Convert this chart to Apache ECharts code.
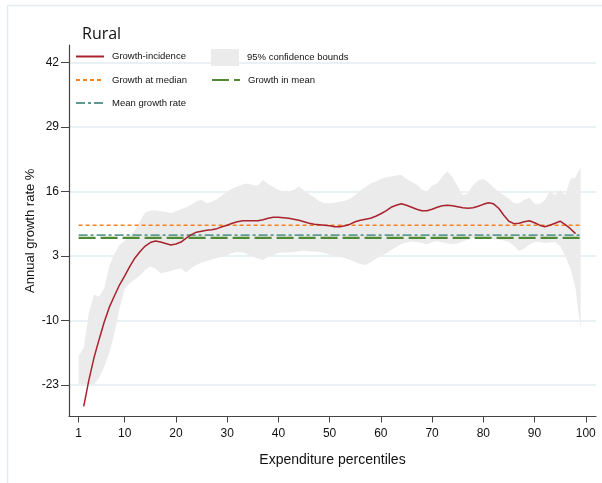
<!DOCTYPE html>
<html>
<head>
<meta charset="utf-8">
<script src="https://cdn.jsdelivr.net/npm/echarts@6/dist/echarts.min.js"></script>
<style>html,body{margin:0;padding:0;background:#fff;}#c{width:602px;height:483px;}</style>
</head>
<body>
<div id="c"></div>
<script>
// Percentiles for the confidence band (1..99) and curve (2..98)
const bandPercentiles = Array.from({length: 99}, (_, i) => i + 1);
const curvePercentiles = Array.from({length: 97}, (_, i) => i + 2);

const upperBound = [
  -17.2, -15.5, -8.5, -4.8, -5.2, -3.5, 1.0, 3.5, 5.2, 6.0,
  7.0, 8.3, 10.0, 11.8, 12.1, 12.2, 12.0, 11.9, 11.6, 12.0,
  12.4, 12.8, 13.3, 14.0, 14.3, 13.6, 13.9, 14.4, 15.2, 16.0,
  16.6, 17.0, 17.4, 17.6, 17.3, 17.2, 18.3, 17.5, 16.9, 16.3,
  16.0, 16.1, 16.3, 17.0, 16.2, 15.5, 14.8, 14.0, 13.6, 13.6,
  13.7, 13.9, 14.1, 14.5, 15.3, 16.2, 16.9, 17.6, 18.0, 18.5,
  18.8, 19.0, 19.2, 19.3, 18.5, 17.9, 17.4, 16.4, 16.0, 17.2,
  17.6, 19.0, 20.0, 18.8, 17.0, 15.3, 15.6, 17.3, 18.2, 18.5,
  17.8, 16.8, 16.0, 15.3, 14.5, 13.6, 13.6, 14.3, 14.7, 13.5,
  13.5, 14.2, 16.1, 15.3, 16.3, 15.3, 18.5, 18.8, 20.8
];

const lowerBound = [
  -22.9, -22.9, -22.9, -22.9, -21.5, -19.3, -16.5, -12.5, -7.5, -3.6,
  -2.5, -1.7, -0.9, 0.2, 0.9, 0.5, -0.5, -0.3, 0.0, 0.3,
  0.5, -0.3, 0.6, 1.2, 1.7, 2.0, 2.3, 2.6, 2.9, 3.2,
  3.6, 3.8, 3.7, 3.3, 2.9, 2.5, 2.2, 2.8, 3.2, 3.6,
  3.7, 3.7, 3.8, 3.9, 4.1, 3.9, 3.9, 3.8, 3.6, 3.2,
  2.9, 2.8, 2.6, 2.2, 1.8, 1.4, 1.2, 1.7, 2.4, 3.0,
  3.5, 4.2, 4.8, 5.4, 5.7, 5.9, 5.8, 5.6, 5.3, 5.8,
  6.0, 5.7, 5.5, 5.4, 5.5, 5.9, 6.3, 6.6, 6.7, 6.6,
  6.5, 6.4, 6.3, 6.1, 5.8, 5.0, 4.0, 4.5, 5.3, 5.8,
  5.8, 5.6, 5.7, 5.8, 5.0, 3.0, 0.6, -3.5, -11.9
];

const growthIncidence = [
  -27.3, -22.0, -17.5, -13.8, -10.3, -7.3, -5.0, -2.8, -1.0,
  0.9, 2.6, 3.9, 5.0, 5.7, 6.0, 5.8, 5.5, 5.2, 5.4,
  5.8, 6.6, 7.3, 7.8, 8.0, 8.2, 8.3, 8.5, 8.9, 9.2,
  9.6, 9.9, 10.1, 10.1, 10.1, 10.1, 10.3, 10.6, 10.8, 10.8,
  10.7, 10.6, 10.4, 10.2, 9.9, 9.6, 9.4, 9.3, 9.2, 9.1,
  8.9, 8.9, 9.1, 9.4, 9.9, 10.2, 10.4, 10.6, 11.0, 11.5,
  12.1, 12.8, 13.2, 13.5, 13.2, 12.8, 12.4, 12.1, 12.1, 12.4,
  12.8, 13.1, 13.2, 13.1, 12.9, 12.7, 12.6, 12.7, 13.0, 13.4,
  13.7, 13.5, 12.6, 11.2, 10.0, 9.5, 9.6, 9.9, 10.1, 9.7,
  9.2, 8.9, 9.2, 9.6, 10.0, 9.3, 8.5, 7.5
];

const growthAtMedian = 9.2;
const growthInMean = 6.65;
const meanGrowthRate = 7.2;
const refLineRange = [1, 99];

const xTicks = [1, 10, 20, 30, 40, 50, 60, 70, 80, 90, 100];
const yTicks = [-23, -10, 3, 16, 29, 42];

const FONT = 'Liberation Sans, Arial, sans-serif';

const bandData = bandPercentiles.map((p, i) => [p, lowerBound[i], upperBound[i]]);
const curveData = curvePercentiles.map((p, i) => [p, growthIncidence[i]]);
const hLine = v => refLineRange.map(p => [p, v]);

const chart = echarts.init(document.getElementById('c'), null, {renderer: 'canvas'});

function legendItem(name, left, top, extra) {
  return Object.assign({
    data: [name], left: left, top: top, padding: 0, orient: 'horizontal',
    itemWidth: 28, itemHeight: 12, itemGap: 0, selectedMode: false,
    itemStyle: {opacity: 0},
    textStyle: {fontFamily: FONT, fontSize: 9.5, color: '#111', padding: [0, 0, 0, 3]}
  }, extra || {});
}

function renderBand(params, api) {
  if (params.dataIndex !== 0) return null;
  const pts = [];
  for (let i = 0; i < bandData.length; i++) pts.push(api.coord([bandData[i][0], bandData[i][2]]));
  for (let i = bandData.length - 1; i >= 0; i--) pts.push(api.coord([bandData[i][0], bandData[i][1]]));
  return {type: 'polygon', shape: {points: pts}, style: {fill: '#ebebeb', stroke: 'none'}, silent: true};
}

chart.setOption({
  animation: false,
  backgroundColor: '#fff',
  graphic: [
    {type: 'rect', shape: {x: 7.5, y: 5.5, width: 620, height: 500}, style: {fill: 'none', stroke: '#e3edf1', lineWidth: 1.5}, silent: true},
    {type: 'text', left: 82, top: 26, style: {text: 'Rural', fontFamily: 'Open Sans, sans-serif', fontSize: 16, fill: '#111'}}
  ],
  grid: {left: 69, right: 6, top: 45, bottom: 66.5, containLabel: false},
  legend: [
    legendItem('Growth-incidence', 75, 51.5),
    legendItem('95% confidence bounds', 211, 49, {icon: 'rect', itemHeight: 17, itemStyle: {color: '#ebebeb', borderWidth: 0, opacity: 1}}),
    legendItem('Growth at median', 75, 75),
    legendItem('Growth in mean', 211, 75),
    legendItem('Mean growth rate', 75, 98)
  ],
  xAxis: {
    type: 'value', min: -0.875, max: 102,
    name: 'Expenditure percentiles', nameLocation: 'middle', nameGap: 37, nameMoveOverlap: false,
    nameTextStyle: {fontFamily: FONT, fontSize: 14, color: '#111'},
    axisLine: {show: true, onZero: false, lineStyle: {color: '#444', width: 1.2}},
    axisTick: {show: true, length: 6, lineStyle: {color: '#444'}, customValues: xTicks},
    axisLabel: {fontFamily: FONT, fontSize: 12, color: '#111', margin: 11, customValues: xTicks},
    splitLine: {show: false}
  },
  yAxis: {
    type: 'value', min: -29.32, max: 45.48,
    name: 'Annual growth rate %', nameLocation: 'middle', nameGap: 32, nameMoveOverlap: false,
    nameTextStyle: {fontFamily: FONT, fontSize: 13, color: '#111'},
    axisLine: {show: true, onZero: false, lineStyle: {color: '#444', width: 1.2}},
    axisTick: {show: true, length: 8, lineStyle: {color: '#444'}, customValues: yTicks},
    axisLabel: {fontFamily: FONT, fontSize: 12, color: '#111', margin: 10, customValues: yTicks},
    splitLine: {show: true, lineStyle: {color: '#e3edf1', width: 1.5}}
  },
  series: [
    {
      name: '95% confidence bounds', type: 'custom', data: bandData,
      encode: {x: 0, y: [1, 2]}, renderItem: renderBand,
      itemStyle: {color: '#ebebeb'}, silent: true, z: 1
    },
    {
      name: 'Growth at median', type: 'line', data: hLine(growthAtMedian), symbol: 'none',
      color: '#f5821f', lineStyle: {color: '#f5821f', width: 1.6, type: [4, 3]}, z: 3
    },
    {
      name: 'Mean growth rate', type: 'line', data: hLine(meanGrowthRate), symbol: 'none',
      color: '#5e9a92', lineStyle: {color: '#5e9a92', width: 1.8, type: [9, 3, 3, 3]}, z: 3
    },
    {
      name: 'Growth in mean', type: 'line', data: hLine(growthInMean), symbol: 'none',
      color: '#4f8a32', lineStyle: {color: '#4f8a32', width: 2.2, type: [17, 5]}, z: 3
    },
    {
      name: 'Growth-incidence', type: 'line', data: curveData, symbol: 'none',
      color: '#a8232f', lineStyle: {color: '#a8232f', width: 1.5}, z: 4
    }
  ]
});
</script>
</body>
</html>
